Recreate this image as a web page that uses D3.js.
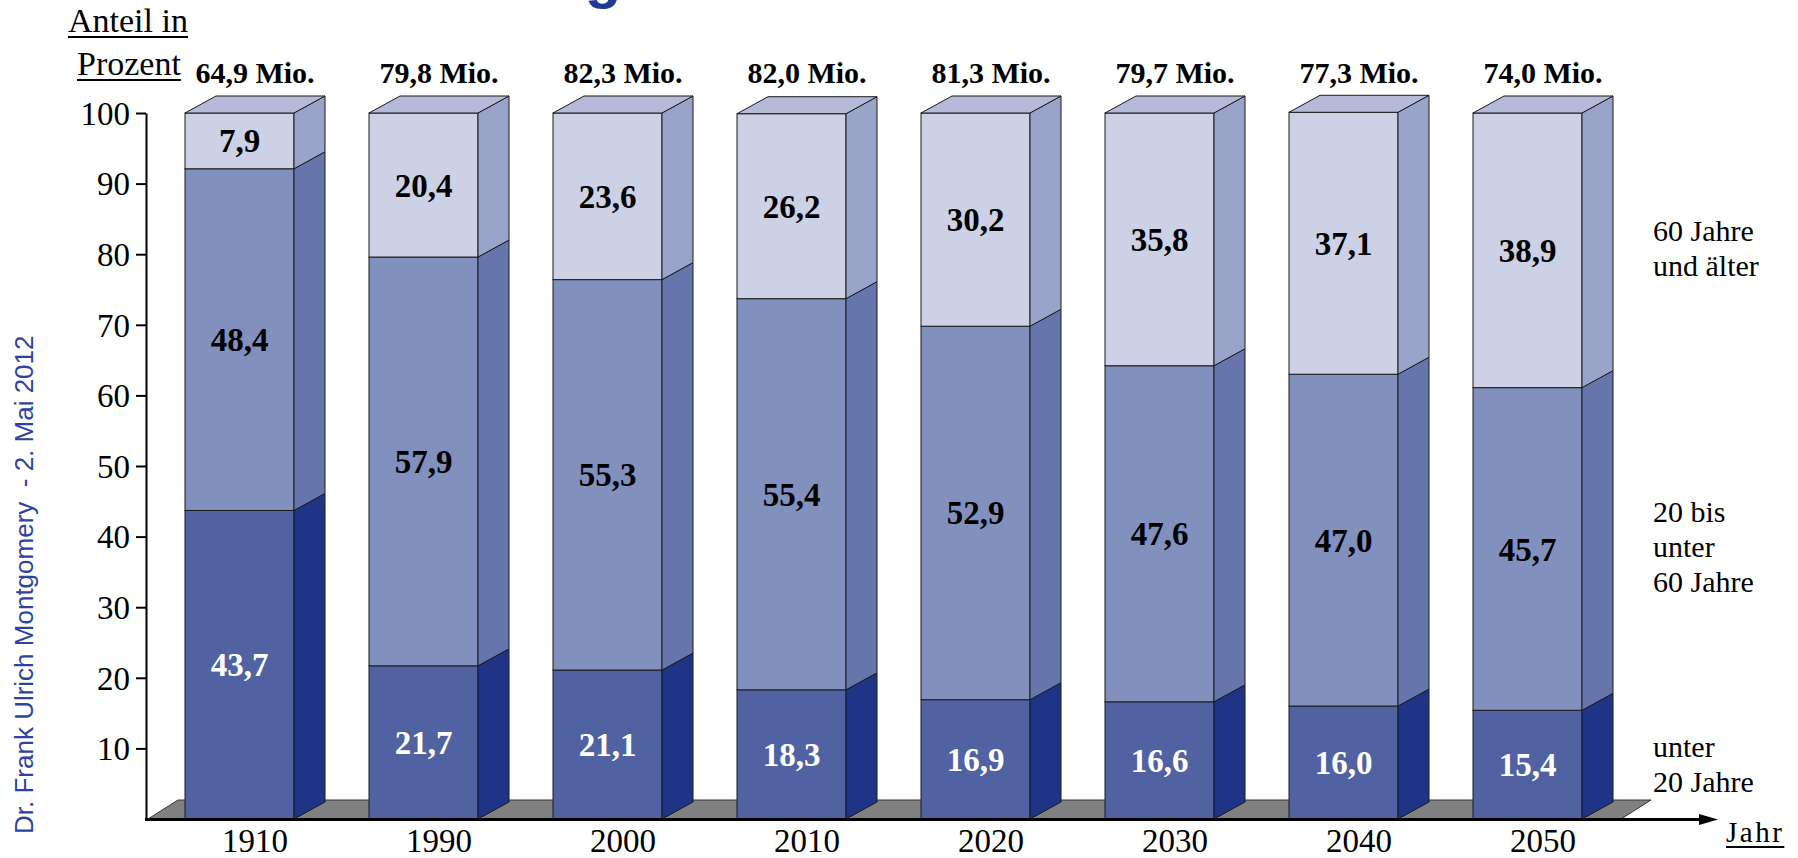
<!DOCTYPE html>
<html>
<head>
<meta charset="utf-8">
<script src="https://cdn.jsdelivr.net/npm/d3@7"></script>
<style>
  html, body { margin: 0; padding: 0; background: #fff; }
  svg { display: block; }
</style>
</head>
<body>
<svg id="chart" width="1798" height="858"></svg>
<script>
// Altersstruktur der Bevölkerung in Deutschland, Anteile in Prozent
const years = ["1910", "1990", "2000", "2010", "2020", "2030", "2040", "2050"];
const totalMio = [64.9, 79.8, 82.3, 82.0, 81.3, 79.7, 77.3, 74.0];
const under20 = [43.7, 21.7, 21.1, 18.3, 16.9, 16.6, 16.0, 15.4];
const age20to60 = [48.4, 57.9, 55.3, 55.4, 52.9, 47.6, 47.0, 45.7];
const age60plus = [7.9, 20.4, 23.6, 26.2, 30.2, 35.8, 37.1, 38.9];
const yTicks = [10, 20, 30, 40, 50, 60, 70, 80, 90, 100];
const groupLabels = [["60 Jahre", "und älter"], ["20 bis", "unter", "60 Jahre"], ["unter", "20 Jahre"]];
const seriesKeys = ["u20", "mid", "old"];

// table for d3.stack
const rows = years.map((yr, i) => ({ year: yr, u20: under20[i], mid: age20to60[i], old: age60plus[i] }));

// shading of each band: front face, side face, top face
const shades = {
  u20: { front: "#5062a2", side: "#1f3486", top: "#7d8bc0" },
  mid: { front: "#8290bd", side: "#6676ad", top: "#a4aed3" },
  old: { front: "#cdd1e6", side: "#9aa3c9", top: "#b4bad8" }
};
const labelColor = { u20: "#ffffff", mid: "#000000", old: "#000000" };

const serif = "Liberation Serif";
const sans = "Liberation Sans";

const de = d3.formatLocale({ decimal: ",", thousands: ".", grouping: [3], currency: ["", " €"] });
const fmt = de.format(".1f");

const svg = d3.select("#chart");
const DX = 31, DY = -17;          // 3D depth offset
const axisX = 146, baseY = 819;

const y = d3.scaleLinear().domain([0, 100]).range([baseY, 113]);
const x = d3.scaleBand().domain(years).range([185, 1582]).paddingInner(75 / 184).paddingOuter(0);
const bw = x.bandwidth();

// partial title glyph clipped at the top edge
svg.append("text")
  .attr("x", 603).attr("y", -3)
  .attr("text-anchor", "middle")
  .attr("font-family", sans).attr("font-weight", "bold").attr("font-size", 60)
  .attr("fill", "#1f3a93")
  .text("g");

// floor
const lastX = x(years[years.length - 1]) + bw + 39;
svg.append("polygon")
  .attr("points", [[axisX + 2, baseY], [axisX + 32, baseY - 19], [lastX + 30, baseY - 19], [lastX, baseY]].map(p => p.join(",")).join(" "))
  .attr("fill", "#808080").attr("stroke", "#333").attr("stroke-width", 1);

// stacked 3D columns
const stacked = d3.stack().keys(seriesKeys)(rows);
const barG = svg.append("g");
stacked.forEach((layer, k) => {
  const key = layer.key;
  const isTop = k === stacked.length - 1;
  layer.forEach(d => {
    const x0 = x(d.data.year), xr = x0 + bw;
    const yt = y(d[1]), yb = y(d[0]);
    const g = barG.append("g");
    g.append("rect")
      .attr("x", x0).attr("y", yt).attr("width", bw).attr("height", yb - yt)
      .attr("fill", shades[key].front).attr("stroke", "#1a1a1a").attr("stroke-width", 1);
    g.append("polygon")
      .attr("points", [[xr, yb], [xr + DX, yb + DY], [xr + DX, yt + DY], [xr, yt]].map(p => p.join(",")).join(" "))
      .attr("fill", shades[key].side).attr("stroke", "#1a1a1a").attr("stroke-width", 1);
    if (isTop) {
      g.append("polygon")
        .attr("points", [[x0, yt], [x0 + DX, yt + DY], [xr + DX, yt + DY], [xr, yt]].map(p => p.join(",")).join(" "))
        .attr("fill", shades[key].top).attr("stroke", "#1a1a1a").attr("stroke-width", 1);
    }
  });
});

// value labels inside the front faces
stacked.forEach(layer => {
  svg.append("g").selectAll("text").data(layer).join("text")
    .attr("x", d => x(d.data.year) + bw / 2)
    .attr("y", d => (y(d[0]) + y(d[1])) / 2)
    .attr("dy", "0.35em")
    .attr("text-anchor", "middle")
    .attr("font-family", serif).attr("font-weight", "bold").attr("font-size", 33)
    .attr("fill", labelColor[layer.key])
    .text(d => fmt(d.data[layer.key]));
});

// population totals above the columns
svg.append("g").selectAll("text").data(years).join("text")
  .attr("x", (d) => x(d) + (bw + DX) / 2)
  .attr("y", 83)
  .attr("text-anchor", "middle")
  .attr("font-family", serif).attr("font-weight", "bold").attr("font-size", 30)
  .attr("fill", "#000")
  .text((d, i) => fmt(totalMio[i]) + " Mio.");

// y axis
const yAxis = svg.append("g")
  .attr("transform", `translate(${axisX},0)`)
  .call(d3.axisLeft(y).tickValues(yTicks).tickSize(10).tickSizeOuter(0).tickPadding(6))
  .attr("font-family", serif).attr("font-size", 33);
yAxis.select(".domain").attr("stroke", "#000").attr("stroke-width", 2);
yAxis.selectAll(".tick line").attr("stroke", "#000").attr("stroke-width", 2);
yAxis.selectAll(".tick text")
  .attr("font-family", serif).attr("font-size", 33).attr("fill", "#000").attr("dy", "0.34em");

// x axis labels
const xAxis = svg.append("g")
  .attr("transform", `translate(${DX / 2},${baseY})`)
  .call(d3.axisBottom(x).tickSize(0))
  .attr("font-family", serif).attr("font-size", 33);
xAxis.select(".domain").remove();
xAxis.selectAll(".tick text")
  .attr("y", 33).attr("dy", 0)
  .attr("font-family", serif).attr("font-size", 33).attr("fill", "#000");

// x axis line with arrow
svg.append("line")
  .attr("x1", axisX - 1).attr("x2", 1702).attr("y1", baseY + 0.5).attr("y2", baseY + 0.5)
  .attr("stroke", "#000").attr("stroke-width", 3);
svg.append("polygon")
  .attr("points", `1699,${baseY - 5} 1718,${baseY + 0.5} 1699,${baseY + 6}`)
  .attr("fill", "#000");

// axis titles with underline
function underlined(txt, tx, ty, size, spacing) {
  const t = svg.append("text")
    .attr("x", tx).attr("y", ty)
    .attr("font-family", serif).attr("font-size", size)
    .attr("letter-spacing", spacing || 0)
    .attr("fill", "#000").text(txt);
  const w = t.node().getComputedTextLength();
  svg.append("line")
    .attr("x1", tx).attr("x2", tx + w)
    .attr("y1", ty + 5).attr("y2", ty + 5)
    .attr("stroke", "#000").attr("stroke-width", 2);
}
underlined("Anteil in", 68, 32, 34);
underlined("Prozent", 77, 75, 34);
underlined("Jahr", 1726, 842, 29, 2.5);

// age group captions on the right
const capStart = [241, 522, 757];
groupLabels.forEach((lines, i) => {
  const t = svg.append("text")
    .attr("x", 1653).attr("y", capStart[i])
    .attr("font-family", serif).attr("font-size", 30).attr("fill", "#000");
  lines.forEach((ln, j) => {
    t.append("tspan").attr("x", 1653).attr("y", capStart[i] + j * 35).text(ln);
  });
});

// author note along the left edge
svg.append("text")
  .attr("transform", "translate(33,834) rotate(-90)")
  .attr("xml:space", "preserve")
  .style("white-space", "pre")
  .attr("font-family", sans).attr("font-size", 26)
  .attr("fill", "#2e43a0")
  .text("Dr. Frank Ulrich Montgomery  - 2. Mai 2012");
</script>
</body>
</html>
